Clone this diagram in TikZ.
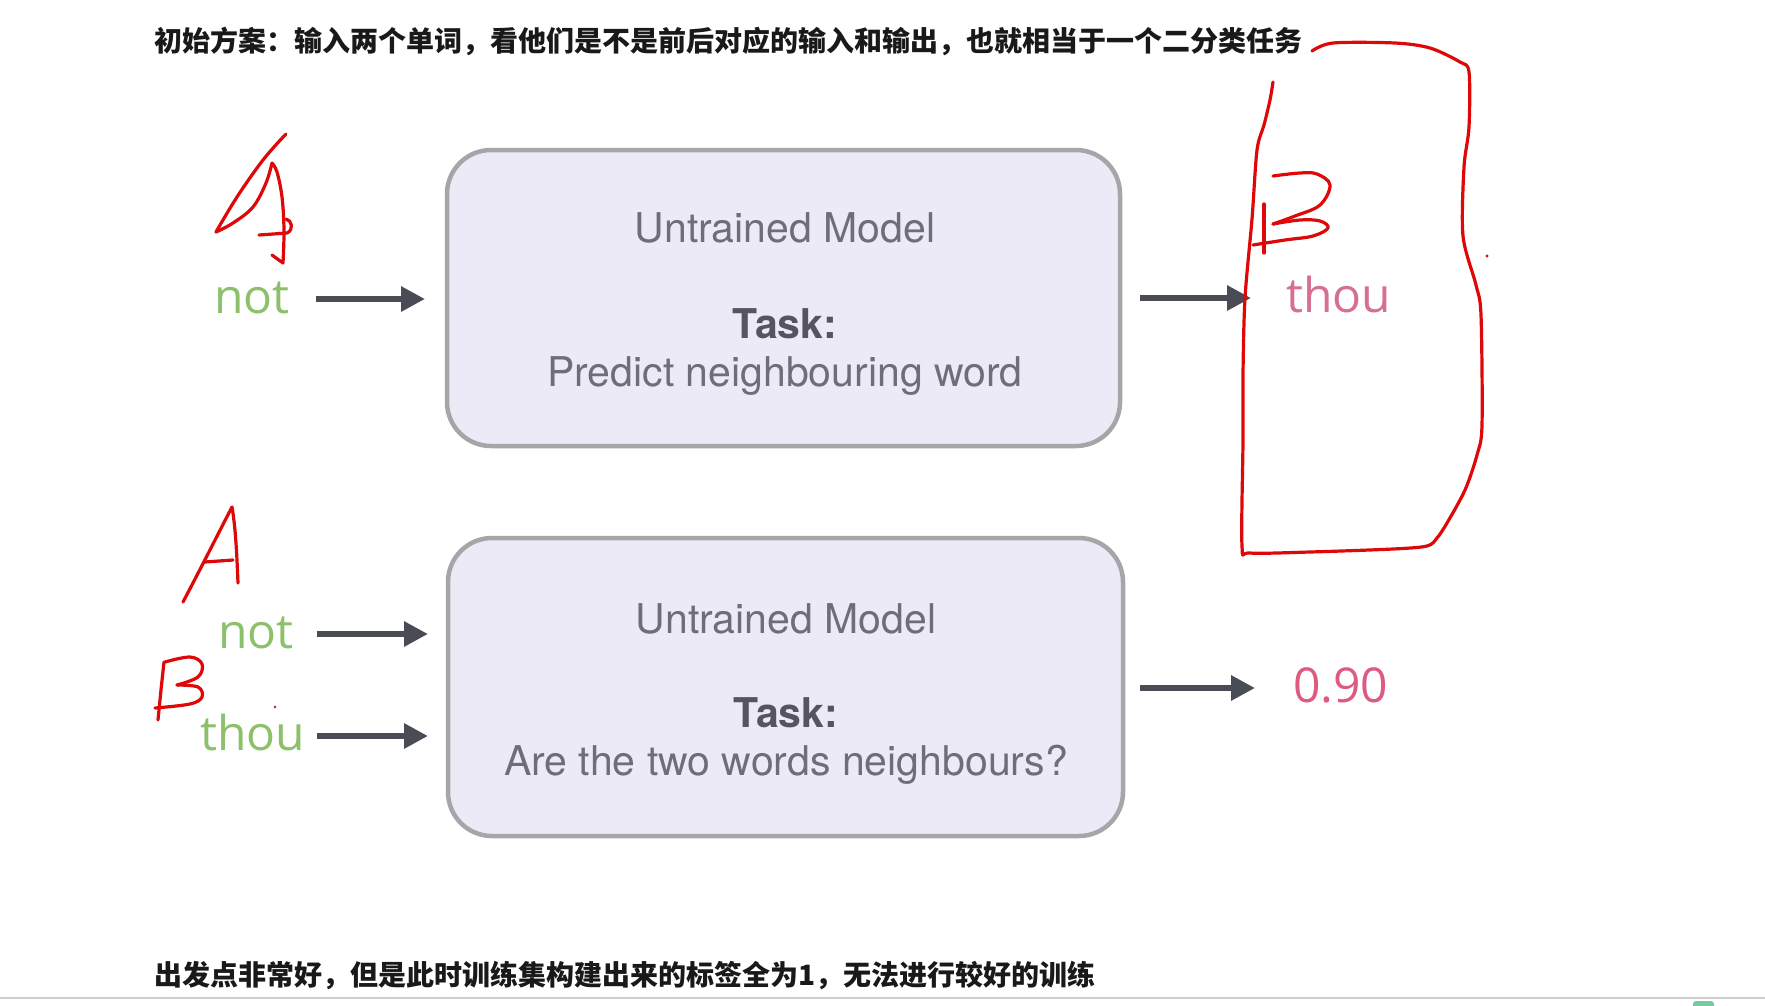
\documentclass[tikz,border=0pt]{standalone}
\usepackage{fontspec}
\newfontfamily\cjk{Noto Sans CJK SC}
\newfontfamily\hv{TeX Gyre Heros}
\newfontfamily\os{Open Sans}
\usetikzlibrary{arrows.meta}
\definecolor{penred}{RGB}{222,8,8}
\definecolor{boxline}{RGB}{166,166,168}
\definecolor{boxfill}{RGB}{236,234,247}
\definecolor{arrgray}{RGB}{74,76,85}
\definecolor{mgray}{RGB}{110,110,120}
\definecolor{tgray}{RGB}{85,85,95}
\definecolor{wgreen}{RGB}{140,192,106}
\definecolor{wpink}{RGB}{214,110,150}
\definecolor{wpinkb}{RGB}{222,90,128}
\definecolor{sepgray}{RGB}{205,205,205}
\definecolor{uigreen}{RGB}{120,200,160}
\begin{document}
\begin{tikzpicture}[x=1pt,y=-1pt,
  model/.style={draw=boxline, fill=boxfill, line width=4.5pt, rounded corners=44pt, inner sep=0pt, outer sep=0pt},
  word/.style={font=\os\fontsize{48}{48}\selectfont, inner sep=0pt, text height=28pt, text depth=0pt, anchor=base west},
  arr/.style={draw=arrgray, line width=6pt, -{Triangle[length=24pt,width=24pt]}},
  mtxt/.style={font=\hv\fontsize{41}{41}\selectfont, text=mgray, inner sep=0pt, anchor=base},
  ttxt/.style={font=\hv\bfseries\fontsize{41}{41}\selectfont, text=tgray, inner sep=0pt, anchor=base},
  cjktxt/.style={font=\cjk\bfseries\fontsize{28}{28}\selectfont, text=black!90, inner sep=0pt, anchor=west},
  pen/.style={draw=penred, line width=3.2pt, line cap=round, line join=round}
]
\useasboundingbox (0,0) rectangle (1765,1005);
\fill[white] (0,0) rectangle (1765,1005);

% texts
\node[cjktxt] (title) at (154,41) {初始方案：输入两个单词，看他们是不是前后对应的输入和输出，也就相当于一个二分类任务};
\node[cjktxt] (note) at (154,975) {出发点非常好，但是此时训练集构建出来的标签全为1，无法进行较好的训练};

% boxes
\node[model, minimum width=673pt, minimum height=296pt] (box1) at (783.5,298) {};
\node[model, minimum width=675pt, minimum height=298pt] (box2) at (785.5,687) {};

\node[mtxt] (m1a) at (785,242) {Untrained Model};
\node[ttxt] (m1b) at (785,338) {Task:};
\node[mtxt] (m1c) at (785,386) {Predict neighbouring word};

\node[mtxt] (m2a) at (786,633) {Untrained Model};
\node[ttxt] (m2b) at (786,727) {Task:};
\node[mtxt] (m2c) at (786,775) {Are the two words neighbours?};

% words
\node[word, text=wgreen] (notA) at (214,313) {not};
\node[word, text=wpink] (thouA) at (1286,312) {thou};
\node[word, text=wgreen] (notB) at (218,648) {not};
\node[word, text=wgreen] (thouB) at (200,750) {thou};
\node[word, text=wpinkb] (score) at (1293,702) {0.90};

% arrows
\draw[arr, shorten <=26.6pt, shorten >=22pt] (notA.east) -- (box1.west |- notA.east);
\draw[arr, shorten <=20pt, shorten >=35pt] (box1.east |- thouA.west) -- (thouA.west);
\draw[arr, shorten <=23.6pt, shorten >=20pt] (notB.east) -- (box2.west |- notB.east);
\draw[arr, shorten <=12.2pt, shorten >=20pt] (thouB.east) -- (box2.west |- thouB.east);
\draw[arr, shorten <=17pt, shorten >=38pt] (box2.east |- score.west) -- (score.west);

% handwriting: top-left A
\draw[pen] plot[smooth, tension=0.6] coordinates {(286,134) (263,160) (237,197) (216,232)};
\draw[pen] plot[smooth, tension=0.6] coordinates {(216,232) (233,223) (253,207) (266,183) (272,163)};
\draw[pen] plot[smooth, tension=0.6] coordinates {(272,163) (277,172) (282,197) (284,230) (283,263)} -- (272,255);
\draw[pen] (259,235) -- (287,233) .. controls (294,230) and (292,220) .. (286,219);

% enclosure around thou
\draw[pen] plot[smooth, tension=0.5] coordinates {(1312,51) (1333,43) (1395,43) (1430,48) (1460,62) (1469,72) (1469,127) (1464,167) (1463,236) (1476,285) (1481,315) (1482,425) (1477,455) (1465,490) (1447,523) (1437,538) (1427,546) (1393,549) (1310,552) (1250,553) (1242,546) (1243,440) (1243,374) (1245,298) (1252,219) (1257,150) (1264,125) (1270,100) (1273,82)};

% top-right B
\draw[pen] (1264,204) -- (1264,253);
\draw[pen] plot[smooth, tension=0.6] coordinates {(1273,176) (1300,173) (1317,174) (1330,185) (1320,205) (1295,216) (1273,224)};
\draw[pen] plot[smooth, tension=0.6] coordinates {(1273,224) (1300,220) (1320,221) (1328,228) (1313,236) (1285,240) (1253,245)};
\fill[penred] (1487,256) circle (1.6);

% bottom-left A
\draw[pen] (183,602) .. controls (200,570) and (220,530) .. (232,507) .. controls (236,530) and (237,560) .. (238,583);
\draw[pen] (205,562) -- (233,560);

% bottom-left B
\draw[pen] plot[smooth] coordinates {(164,662) (161,690) (158,720)};
\draw[pen] plot[smooth, tension=0.6] coordinates {(165,662) (190,657) (202,664) (198,677) (177,685)};
\draw[pen] plot[smooth, tension=0.6] coordinates {(177,685) (198,687) (202,697) (190,704) (155,708)};
\fill[penred] (275,707) circle (1.4);

% bottom separator
\draw[line width=2pt, draw=sepgray] (0,998) -- (1765,998);
\fill[uigreen, rounded corners=3pt] (1693,1001) rectangle (1714,1010);
\end{tikzpicture}
\end{document}
